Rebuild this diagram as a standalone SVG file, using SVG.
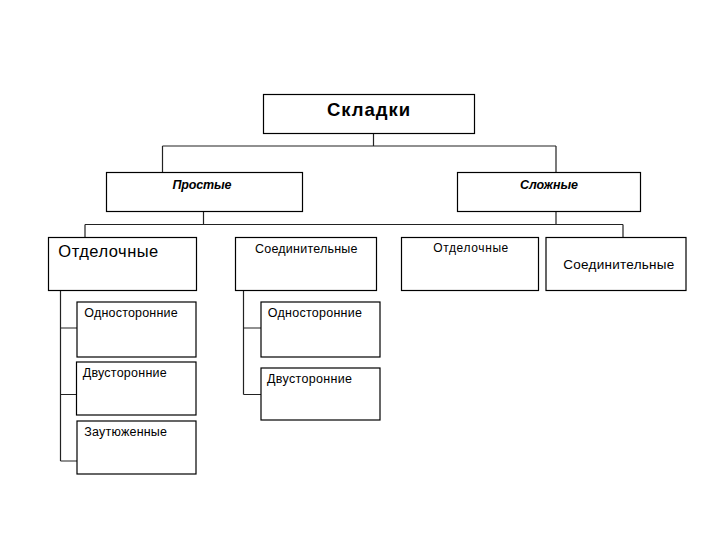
<svg xmlns="http://www.w3.org/2000/svg" width="720" height="540" viewBox="0 0 720 540">
<style>
.box{fill:#fff;stroke:#000;stroke-width:1.2}
.ln{fill:none;stroke:#222;stroke-width:1.2}
text{font-family:"Liberation Sans",Arial,sans-serif;fill:#000}
.t{font-size:12.5px}
</style>
<rect width="720" height="540" fill="#fff"/>
<g id="connectors">
<path class="ln" d="M373.5 133V146M162.5 146H556M162.5 146V172M556 146V172"/>
<path class="ln" d="M203.5 211.5V224.5M556 211.5V224.5M85 224.5H623M85 224.5V237M623 224.5V237"/>
<path class="ln" d="M60.5 290V461M60.5 328H77M60.5 394.5H77M60.5 461H77"/>
<path class="ln" d="M243.5 290V394.5M243.5 328H261M243.5 394.5H261"/>
</g>
<g id="n-skladki"><rect class="box" x="263.5" y="94.5" width="211" height="39"/><text x="327" y="115.5" font-size="18.5" font-weight="bold" textLength="83" lengthAdjust="spacing">Складки</text></g>
<g id="n-prostye"><rect class="box" x="106.5" y="172.5" width="196" height="39"/><text x="172.5" y="188.5" font-size="12.5" font-weight="bold" font-style="italic" textLength="59" lengthAdjust="spacing">Простые</text></g>
<g id="n-slozhnye"><rect class="box" x="457.5" y="172.5" width="183" height="39"/><text x="520" y="188.5" font-size="12.5" font-weight="bold" font-style="italic" textLength="58" lengthAdjust="spacing">Сложные</text></g>
<g id="n-otdel1"><rect class="box" x="48.5" y="237.5" width="148" height="53"/><text x="58.3" y="256.7" font-size="16.5" textLength="100" lengthAdjust="spacing">Отделочные</text></g>
<g id="n-soed1"><rect class="box" x="235.5" y="237.5" width="141" height="53"/><text x="255" y="253" font-size="12.5" textLength="102.5" lengthAdjust="spacing">Соединительные</text></g>
<g id="n-otdel2"><rect class="box" x="401.5" y="237.5" width="137" height="53"/><text x="433.3" y="252.3" font-size="12" textLength="75" lengthAdjust="spacing">Отделочные</text></g>
<g id="n-soed2"><rect class="box" x="546" y="237.5" width="140" height="53"/><text x="563.3" y="269.3" font-size="13.5" textLength="111" lengthAdjust="spacing">Соединительные</text></g>
<g id="n-odno1"><rect class="box" x="77" y="302" width="119" height="55"/><text class="t" x="84.3" y="316.7" textLength="93.4" lengthAdjust="spacing">Односторонние</text></g>
<g id="n-dvu1"><rect class="box" x="76.5" y="362" width="119.5" height="53"/><text class="t" x="82.7" y="377.3" textLength="84" lengthAdjust="spacing">Двусторонние</text></g>
<g id="n-zaut"><rect class="box" x="77" y="421" width="119" height="53"/><text class="t" x="84.3" y="435.7" textLength="82.7" lengthAdjust="spacing">Заутюженные</text></g>
<g id="n-odno2"><rect class="box" x="261" y="302" width="119" height="55"/><text class="t" x="267.7" y="317.3" textLength="94.3" lengthAdjust="spacing">Односторонние</text></g>
<g id="n-dvu2"><rect class="box" x="261" y="368" width="119" height="52"/><text class="t" x="267" y="382.7" textLength="85" lengthAdjust="spacing">Двусторонние</text></g>
</svg>
